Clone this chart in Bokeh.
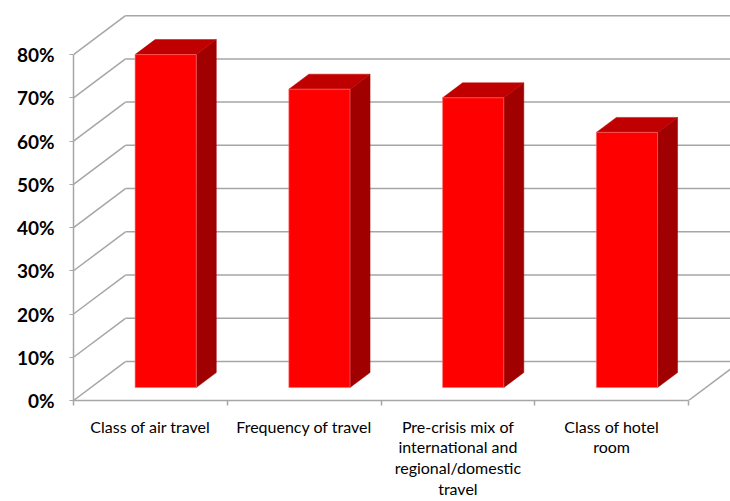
from bokeh.plotting import figure
from bokeh.models import FixedTicker, PrintfTickFormatter, Range1d
from bokeh.embed import file_html
from bokeh.resources import INLINE

categories = [
    "Class of air travel",
    "Frequency of travel",
    "Pre-crisis mix of\ninternational and\nregional/domestic\ntravel",
    "Class of hotel\nroom",
]
values = [77, 69, 67, 59]
y_ticks = [0, 10, 20, 30, 40, 50, 60, 70, 80]

# oblique projection of the depth axis (data units)
DX = 0.338
DY = 9.0
Z0, Z1 = 0.333, 0.718   # bar depth (fraction of floor depth)
HW = 0.199              # bar half width (category units)
SHIFT = -0.013          # bar centre offset inside its category

n = len(categories)
p = figure(width=730, height=501,
           x_range=Range1d(0, 4.273), y_range=Range1d(0, 92.5),
           output_backend="svg", toolbar_location=None,
           min_border_left=73, min_border_right=0,
           min_border_top=0, min_border_bottom=101)
p.outline_line_color = None
p.xgrid.visible = False
p.ygrid.visible = False
p.background_fill_color = "white"
p.border_fill_color = "white"

GRID = "#a6a6a6"
# walls: left wall diagonals and back wall horizontals
x0s, y0s, x1s, y1s = [], [], [], []
for t in y_ticks:
    x0s += [0, DX]
    y0s += [t, t + DY]
    x1s += [DX, n + DX + 1]
    y1s += [t + DY, t + DY]
# floor right edge
x0s.append(n); y0s.append(0); x1s.append(n + DX); y1s.append(DY)
p.segment(x0s, y0s, x1s, y1s, line_color=GRID, line_width=1.5)

# bars
fx, fy, tx, ty, sx, sy = [], [], [], [], [], []
for i, v in enumerate(values):
    xl = i + 0.5 + SHIFT - HW
    xr = i + 0.5 + SHIFT + HW
    a0x, a0y = Z0 * DX, Z0 * DY
    a1x, a1y = Z1 * DX, Z1 * DY
    fx.append([xl + a0x, xr + a0x, xr + a0x, xl + a0x])
    fy.append([a0y, a0y, v + a0y, v + a0y])
    tx.append([xl + a0x, xr + a0x, xr + a1x, xl + a1x])
    ty.append([v + a0y, v + a0y, v + a1y, v + a1y])
    sx.append([xr + a0x, xr + a1x, xr + a1x, xr + a0x])
    sy.append([a0y, a1y, v + a1y, v + a0y])
p.patches(sx, sy, fill_color="#a00000", line_color="#a00000", line_width=0.5)
p.patches(tx, ty, fill_color="#c00000", line_color="#c00000", line_width=0.5)
p.patches(fx, fy, fill_color="#ff0000", line_color="#ff7070", line_width=0.6)

# y axis
ya = p.yaxis[0]
ya.ticker = FixedTicker(ticks=y_ticks)
ya.formatter = PrintfTickFormatter(format="%d%%")
ya.bounds = (0, 80)
ya.axis_line_color = GRID
ya.axis_line_width = 1.5
ya.major_tick_line_color = GRID
ya.major_tick_in = 0
ya.major_tick_out = 4
ya.minor_tick_line_color = None
ya.major_label_text_font = "Lato"
ya.major_label_text_font_style = "bold"
ya.major_label_text_font_size = "19px"
ya.major_label_text_color = "black"
ya.major_label_standoff = 15

# x axis
xa = p.xaxis[0]
centers = [i + 0.5 for i in range(n)]
xa.ticker = FixedTicker(ticks=centers, minor_ticks=list(range(n + 1)))
xa.major_label_overrides = {c: lab for c, lab in zip(centers, categories)}
xa.bounds = (0, n)
xa.axis_line_color = GRID
xa.axis_line_width = 1.5
xa.major_tick_line_color = None
xa.minor_tick_line_color = GRID
xa.minor_tick_line_width = 1.5
xa.minor_tick_in = 0
xa.minor_tick_out = 5
xa.major_label_text_font = "Lato"
xa.major_label_text_font_size = "16px"
xa.major_label_text_color = "black"
xa.major_label_text_line_height = 1.1
xa.major_label_standoff = 10

open("out.html", "w").write(file_html(p, INLINE))
